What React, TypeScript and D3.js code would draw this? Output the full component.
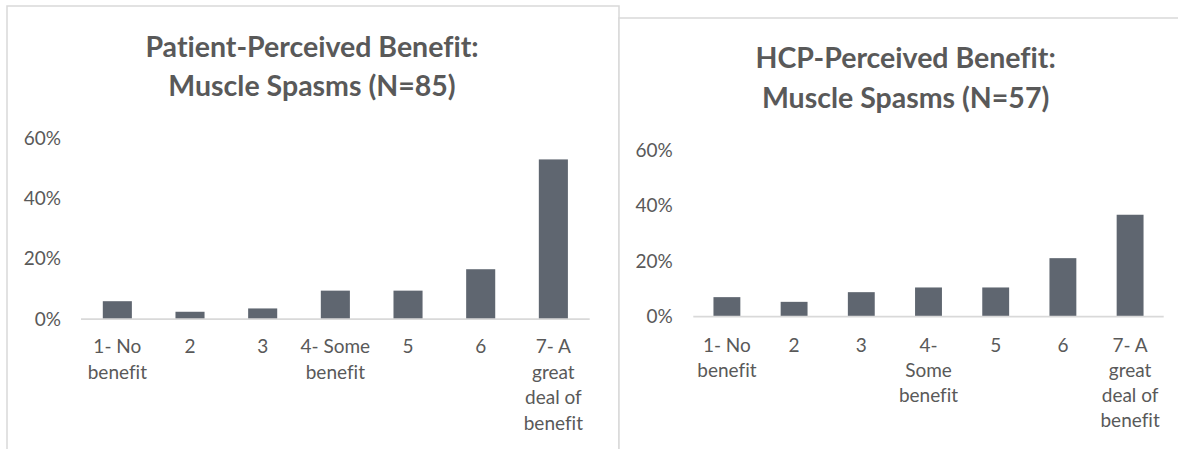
import React from "react";
import * as d3 from "d3";

// Response categories shared by both charts
const categories = [
  "1- No benefit",
  "2",
  "3",
  "4- Some benefit",
  "5",
  "6",
  "7- A great deal of benefit",
];

// Share of respondents per rating (%)
const patientValues = [5.9, 2.4, 3.5, 9.4, 9.4, 16.5, 52.9];
const hcpValues = [7.0, 5.3, 8.8, 10.5, 10.5, 21.1, 36.8];

const yTicks = [0, 20, 40, 60];

// Wrapped category labels (the HCP chart has narrower bands)
const patientTickLines = [
  ["1- No", "benefit"],
  ["2"],
  ["3"],
  ["4- Some", "benefit"],
  ["5"],
  ["6"],
  ["7- A", "great", "deal of", "benefit"],
];
const hcpTickLines = [
  ["1- No", "benefit"],
  ["2"],
  ["3"],
  ["4-", "Some", "benefit"],
  ["5"],
  ["6"],
  ["7- A", "great", "deal of", "benefit"],
];

const patientTitle = ["Patient-Perceived Benefit:", "Muscle Spasms (N=85)"];
const hcpTitle = ["HCP-Perceived Benefit:", "Muscle Spasms (N=57)"];

const FONT = "Lato, 'Open Sans', sans-serif";
const TEXT = "#595959";
const BAR = "#5f6670";
const RULE = "#d9d9d9";
const noLigatures = { fontVariantLigatures: "none" } as React.CSSProperties;

type PanelProps = {
  values: number[];
  tickLines: string[][];
  title: string[];
  frame: { x: number; y: number; w: number; h: number };
  titleX: number;
  titleY: number;
  plotLeft: number;
  plotRight: number;
  baseY: number;
  topY: number;
  labelRight: number;
  tickLabelY: number;
  lineGap: number;
};

function Panel(p: PanelProps) {
  const x = d3
    .scaleBand<string>()
    .domain(categories)
    .range([p.plotLeft, p.plotRight])
    .paddingInner(0.6)
    .paddingOuter(0.3);
  const y = d3.scaleLinear().domain([0, 60]).range([p.baseY, p.topY]);

  return (
    <g style={noLigatures}>
      <rect
        x={p.frame.x}
        y={p.frame.y}
        width={p.frame.w}
        height={p.frame.h}
        fill="#ffffff"
        stroke={RULE}
        strokeWidth={1.5}
      />
      <text
        x={p.titleX}
        y={p.titleY}
        textAnchor="middle"
        fontFamily={FONT}
        fontWeight={700}
        fontSize={28.5}
        fill={TEXT}
      >
        {p.title.map((t, i) => (
          <tspan key={i} x={p.titleX} dy={i === 0 ? 0 : 39.5}>
            {t}
          </tspan>
        ))}
      </text>
      {yTicks.map((t) => (
        <text
          key={t}
          x={p.labelRight}
          y={y(t) + 6.5}
          textAnchor="end"
          fontFamily={FONT}
          fontSize={19}
          fill={TEXT}
        >
          {t}%
        </text>
      ))}
      {categories.map((c, i) => (
        <rect
          key={c}
          x={x(c)}
          y={y(p.values[i])}
          width={x.bandwidth()}
          height={p.baseY - y(p.values[i])}
          fill={BAR}
        />
      ))}
      <line
        x1={p.plotLeft}
        x2={p.plotRight}
        y1={p.baseY}
        y2={p.baseY}
        stroke={RULE}
        strokeWidth={1.75}
      />
      {categories.map((c, i) => {
        const cx = (x(c) ?? 0) + x.bandwidth() / 2;
        return (
          <text
            key={c}
            x={cx}
            y={p.tickLabelY}
            textAnchor="middle"
            fontFamily={FONT}
            fontSize={19}
            fill={TEXT}
          >
            {p.tickLines[i].map((ln, j) => (
              <tspan key={j} x={cx} dy={j === 0 ? 0 : p.lineGap}>
                {ln}
              </tspan>
            ))}
          </text>
        );
      })}
    </g>
  );
}

export default function App() {
  return (
    <svg
      width={1178}
      height={449}
      viewBox="0 0 1178 449"
      style={{ position: "absolute", left: 0, top: 0, background: "#ffffff" }}
    >
      <Panel
        values={patientValues}
        tickLines={patientTickLines}
        title={patientTitle}
        frame={{ x: 7, y: 6, w: 612, h: 460 }}
        titleX={312}
        titleY={56.5}
        plotLeft={81}
        plotRight={589.7}
        baseY={319}
        topY={138}
        labelRight={61}
        tickLabelY={353.3}
        lineGap={25.5}
      />
      <Panel
        values={hcpValues}
        tickLines={hcpTickLines}
        title={hcpTitle}
        frame={{ x: 619, y: 18, w: 575, h: 460 }}
        titleX={905.6}
        titleY={68.3}
        plotLeft={693.3}
        plotRight={1163.7}
        baseY={316.5}
        topY={150.6}
        labelRight={672.7}
        tickLabelY={351.7}
        lineGap={25}
      />
    </svg>
  );
}
